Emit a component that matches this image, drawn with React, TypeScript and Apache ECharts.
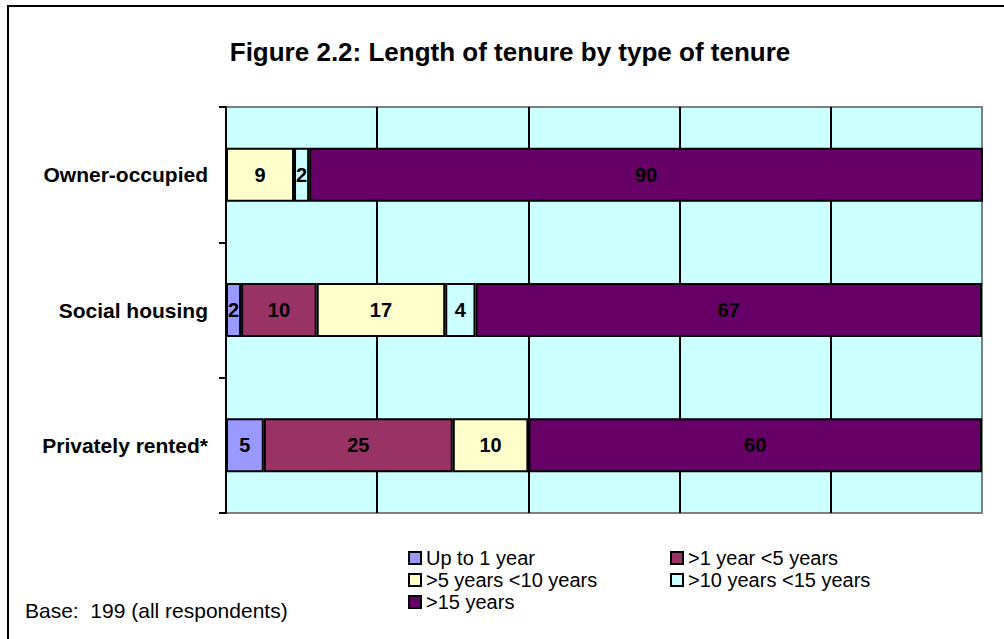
import React, { useEffect, useRef } from "react";
import * as echarts from "echarts";

const categories = ["Owner-occupied", "Social housing", "Privately rented*"];
const seriesNames = [
  "Up to 1 year",
  ">1 year <5 years",
  ">5 years <10 years",
  ">10 years <15 years",
  ">15 years",
];
const upTo1 = [0, 2, 5];
const y1to5 = [0, 10, 25];
const y5to10 = [9, 17, 10];
const y10to15 = [2, 4, 0];
const over15 = [90, 67, 60];
const colors = ["#9999FF", "#993366", "#FFFFCC", "#CCFFFF", "#660066"];

const FONT = "'Liberation Sans', Arial, sans-serif";

export default function App() {
  const ref = useRef<HTMLDivElement>(null);
  useEffect(() => {
    if (!ref.current) return;
    const chart = echarts.init(ref.current, undefined, { renderer: "svg" });
    const values = [upTo1, y1to5, y5to10, y10to15, over15];
    const series = values.map((vals, i) => ({
      name: seriesNames[i],
      type: "bar",
      stack: "total",
      barWidth: 54,
      data: vals,
      itemStyle: { color: colors[i], borderColor: "#000", borderWidth: 2 },
      label: {
        show: true,
        position: "inside",
        color: "#000",
        fontWeight: "bold",
        fontSize: 20,
        fontFamily: FONT,
        formatter: (p: any) => (p.value === 0 ? "" : String(p.value)),
      },
    }));
    const legendCommon = {
      orient: "vertical",
      padding: 0,
      itemGap: 0,
      itemWidth: 12,
      itemHeight: 12,
      icon: "rect",
      selectedMode: false,
      textStyle: { fontSize: 20, fontFamily: FONT, color: "#000", lineHeight: 22 },
    };
    chart.setOption({
      animation: false,
      backgroundColor: "#fff",
      grid: {
        left: 226,
        right: 22,
        top: 107,
        bottom: 126,
        show: true,
        backgroundColor: "#CCFFFF",
        borderColor: "#808080",
        borderWidth: 2,
      },
      xAxis: {
        type: "value",
        min: 0,
        max: 100,
        interval: 20,
        axisLabel: { show: false },
        axisLine: { show: false },
        axisTick: { show: false },
        splitLine: {
          show: true,
          showMinLine: false,
          showMaxLine: false,
          lineStyle: { color: "#000", width: 2 },
        },
      },
      yAxis: {
        type: "category",
        data: categories,
        inverse: true,
        axisLine: { show: true, lineStyle: { color: "#000", width: 2 } },
        axisTick: { show: true, length: 7, lineStyle: { color: "#000", width: 2 } },
        axisLabel: {
          margin: 18,
          color: "#000",
          fontWeight: "bold",
          fontSize: 21,
          fontFamily: FONT,
        },
      },
      legend: [
        {
          ...legendCommon,
          left: 408,
          top: 547,
          data: [seriesNames[0], seriesNames[2], seriesNames[4]],
        },
        {
          ...legendCommon,
          left: 670,
          top: 547,
          data: [seriesNames[1], seriesNames[3]],
        },
      ],
      graphic: [
        {
          type: "rect",
          shape: { x: 8, y: 6, width: 1100, height: 800 },
          style: { fill: "none", stroke: "#000", lineWidth: 2 },
          silent: true,
        },
        {
          type: "text",
          x: 510,
          y: 52,
          style: {
            text: "Figure 2.2: Length of tenure by type of tenure",
            fontSize: 26,
            fontWeight: "bold",
            fontFamily: FONT,
            fill: "#000",
            textAlign: "center",
            textVerticalAlign: "middle",
          },
        },
        {
          type: "text",
          x: 25,
          y: 610,
          style: {
            text: "Base:  199 (all respondents)",
            fontSize: 21,
            fontFamily: FONT,
            fill: "#000",
            textAlign: "left",
            textVerticalAlign: "middle",
          },
        },
      ],
      series,
    });
    return () => chart.dispose();
  }, []);
  return (
    <div
      ref={ref}
      style={{ position: "fixed", left: 0, top: 0, width: 1004, height: 639 }}
    />
  );
}
